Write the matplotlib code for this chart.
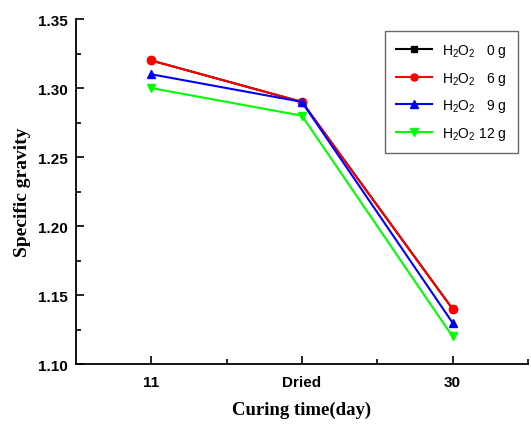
import numpy as np
import matplotlib
matplotlib.use('Agg')
import matplotlib.pyplot as plt
from matplotlib.ticker import AutoMinorLocator, MultipleLocator, FixedLocator

plt.rcParams['font.family'] = ['Liberation Sans', 'DejaVu Sans']
plt.rcParams['mathtext.fontset'] = 'custom'
plt.rcParams['mathtext.rm'] = 'Liberation Sans'
plt.rcParams['mathtext.it'] = 'Liberation Sans:italic'

# data
days = ['11', 'Dried', '30']
h2o2_0 = [1.32, 1.29, 1.14]
h2o2_6 = [1.32, 1.29, 1.14]
h2o2_9 = [1.31, 1.29, 1.13]
h2o2_12 = [1.30, 1.28, 1.12]
labels = ['H$_2$O$_2$   0 g', 'H$_2$O$_2$   6 g', 'H$_2$O$_2$   9 g', 'H$_2$O$_2$ 12 g']

fig = plt.figure(figsize=(5.31, 4.27), dpi=100)
ax = fig.add_axes([0.143, 0.145, 0.851, 0.808])

x = np.arange(len(days))
ax.plot(x, h2o2_0, '-s', color='black', lw=1.5, ms=5, label=labels[0])
ax.plot(x, h2o2_6, '-o', color='#ff0000', lw=1.5, ms=6, label=labels[1])
ax.plot(x, h2o2_9, '-^', color='#0000ff', lw=1.5, ms=6, label=labels[2])
ax.plot(x, h2o2_12, '-v', color='#00ff00', lw=1.5, ms=6, label=labels[3])

ax.set_xlim(-0.5, 2.5)
ax.set_ylim(1.10, 1.35)
ax.set_xticks(x)
ax.set_xticklabels(days)
ax.xaxis.set_minor_locator(FixedLocator([0.5, 1.5, 2.5]))
ax.yaxis.set_major_locator(MultipleLocator(0.05))
ax.yaxis.set_minor_locator(AutoMinorLocator(2))

for s in ['top', 'right']:
    ax.spines[s].set_visible(False)
for s in ['left', 'bottom']:
    ax.spines[s].set_linewidth(1.3)

ax.tick_params(which='both', direction='in', width=1.2)
ax.tick_params(which='major', length=6, labelsize=11, pad=6)
ax.tick_params(axis='x', which='major', pad=8)
ax.tick_params(which='minor', length=3.5)
for t in ax.get_xticklabels() + ax.get_yticklabels():
    t.set_fontweight('bold')

ax.set_xlabel('Curing time(day)', family='Liberation Serif', fontweight='bold', fontsize=13.5, labelpad=8)
ax.set_ylabel('Specific gravity', family='Liberation Serif', fontweight='bold', fontsize=14, labelpad=5)

leg = ax.legend(loc='upper right', bbox_to_anchor=(0.978, 0.965), borderaxespad=0,
                fancybox=False, edgecolor='#444444', fontsize=10, handlelength=2.6,
                handletextpad=0.7, labelspacing=0.75, borderpad=0.8, markerscale=0.85)
leg.get_frame().set_linewidth(1.0)

fig.savefig('out.png', dpi=100)
